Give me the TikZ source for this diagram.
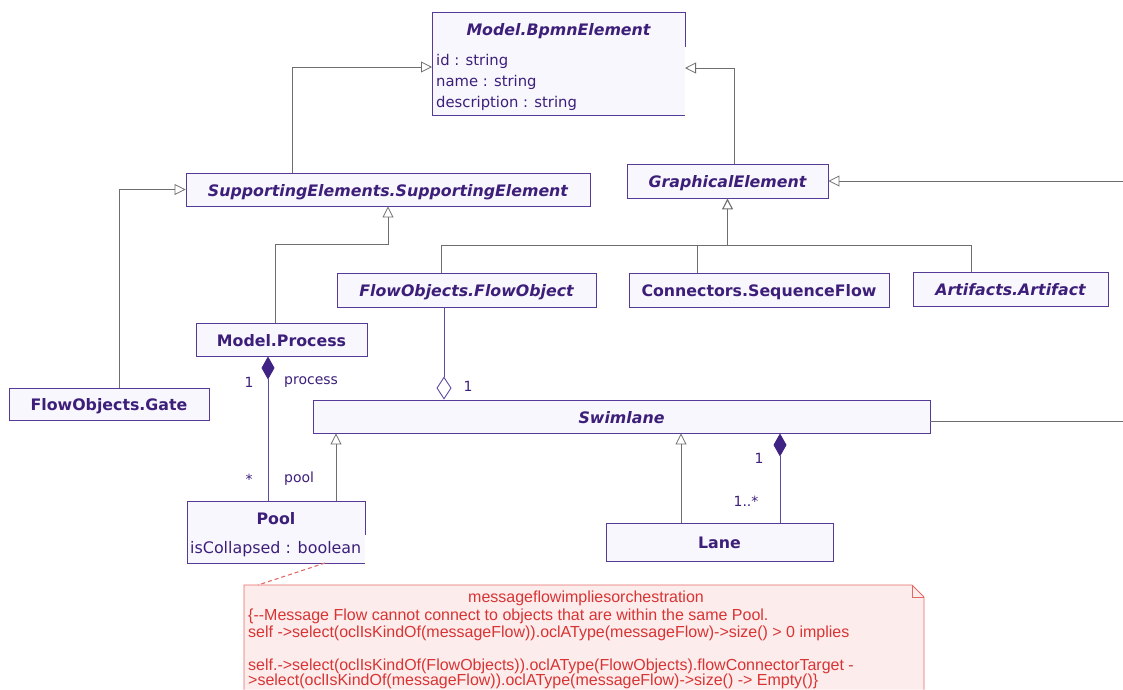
\documentclass[tikz,border=0pt]{standalone}
\usepackage{fontspec}
\setmainfont{DejaVu Sans}
\newfontfamily\notefont{Liberation Sans}
\usetikzlibrary{arrows.meta}

\definecolor{umlborder}{HTML}{553A98}
\definecolor{umlfill}{HTML}{F7F7FD}
\definecolor{umltext}{HTML}{3D1F7A}
\definecolor{genline}{HTML}{6E6E6E}
\definecolor{assocline}{HTML}{5E4AA0}
\definecolor{diamondfill}{HTML}{3F2283}
\definecolor{notefill}{HTML}{FDECEC}
\definecolor{noteline}{HTML}{E26A66}
\definecolor{notetext}{HTML}{D83434}

\tikzset{
  cls/.style={draw=umlborder, fill=umlfill, line width=0.9pt, inner sep=0pt,
    text=umltext, text height=13pt, text depth=0pt,
    font=\fontsize{15.8}{18}\selectfont\bfseries},
  abstractcls/.style={cls, font=\fontsize{15.8}{18}\selectfont\bfseries\itshape},
  attr/.style={inner sep=0pt, anchor=west, text=umltext,
    font=\fontsize{14.8}{17}\selectfont},
  gen/.style={draw=genline, line width=0.8pt,
    -{Triangle[open, length=11pt, width=11pt]}},
  gline/.style={draw=genline, line width=0.8pt},
  assoc/.style={draw=assocline, line width=0.9pt},
  comp/.style={assoc, {Diamond[length=23pt, width=13pt, color=diamondfill, fill=diamondfill]}-},
  aggr/.style={assoc, {Diamond[open, length=23pt, width=15pt]}-},
  mult/.style={text=umltext, inner sep=0pt, font=\fontsize{14}{16}\selectfont},
  notebody/.style={fill=notefill, draw=noteline, line width=0.8pt},
  notetxt/.style={text=notetext, inner sep=0pt, anchor=west,
    font=\notefont\fontsize{16}{17}\selectfont},
}

\begin{document}
\begin{tikzpicture}[x=1pt, y=-1pt]
\useasboundingbox (0,0) rectangle (1123,689);

% --- classes ---
\node[abstractcls, minimum width=253pt, minimum height=34pt] (bpmn) at (558.5,29) {Model.BpmnElement};
\path[fill=umlfill] (432,46) rectangle (685,115);
\draw[draw=umlborder, line width=0.9pt] (432,46) -- (432,115) -- (685,115);
\node[attr] (attrid) at (436,61) {id : string};
\node[attr] (attrname) at (436,82) {name : string};
\node[attr] (attrdesc) at (436,103) {description : string};

\node[abstractcls, minimum width=404pt, minimum height=33pt] (supp) at (388,189.5) {SupportingElements.SupportingElement};
\node[abstractcls, minimum width=201pt, minimum height=34pt] (graph) at (727.5,181) {GraphicalElement};
\node[cls, minimum width=200pt, minimum height=32pt] (gate) at (109,404) {FlowObjects.Gate};
\node[cls, minimum width=171pt, minimum height=33pt] (proc) at (281.5,339.5) {Model.Process};
\node[abstractcls, minimum width=259pt, minimum height=34pt] (flow) at (466.5,290) {FlowObjects.FlowObject};
\node[cls, minimum width=260pt, minimum height=34pt] (seq) at (759,290) {Connectors.SequenceFlow};
\node[abstractcls, minimum width=195pt, minimum height=34pt] (art) at (1010.5,289) {Artifacts.Artifact};
\node[abstractcls, minimum width=617pt, minimum height=33pt] (swim) at (621.5,416.5) {Swimlane};

\node[cls, minimum width=178pt, minimum height=33pt] (pool) at (276,517.5) {Pool};
\path[fill=umlfill] (187,534) rectangle (365,563);
\draw[draw=umlborder, line width=0.9pt] (187,534) -- (187,563) -- (365,563);
\node[attr, font=\fontsize{15.9}{18}\selectfont] (poolattr) at (190,549) {isCollapsed : boolean};

\node[cls, minimum width=227pt, minimum height=38pt] (lane) at (719.5,542) {Lane};

% --- generalizations ---
\coordinate (rgtA) at (1123,181);
\coordinate (rgtB) at (1123,421);
\coordinate (busL) at (441,245);
\coordinate (bus) at (727.5,245);
\coordinate (busR) at (971,245);

\draw[gen] ([xshift=-96pt]supp.north) |- (432,67);
\draw[gen] ([xshift=6.5pt]graph.north) |- (685,68);
\draw[gen] (rgtA) -- (graph.east);
\draw[gen] ([xshift=10pt]gate.north) |- (supp.west);
\draw[gen] ([xshift=-6.5pt]proc.north) |- ([yshift=-38pt]supp.south) -- (supp.south);

\draw[gline] ([xshift=-25.5pt]flow.north) -- (busL) -- (busR) -- ([xshift=-39.5pt]art.north);
\draw[gline] ([xshift=-62pt]seq.north) -- ([xshift=-62pt, yshift=28pt]seq.north);
\draw[gen, line width=1.1pt] (bus) -- (graph.south);

\draw[gline] ([yshift=-4.5pt]swim.east) -- (rgtB);
\draw[gen] ([xshift=60pt]pool.north) -- ([xshift=-285.5pt]swim.south);
\draw[gen] ([xshift=-38.5pt]lane.north) -- ([xshift=59.5pt]swim.south);

% --- associations ---
\draw[aggr] ([xshift=-177.5pt]swim.north) -- ([xshift=-22.5pt]flow.south);
\node[mult] (aggone) at (468,386) {1};

\draw[comp] ([xshift=-13.5pt]proc.south) -- ([xshift=-8pt]pool.north);
\node[mult] (pone) at (249,382) {1};
\node[mult, anchor=west] (prole) at (284,382) {process};
\node[mult] (pmany) at (249,479) {*};
\node[mult, anchor=west] (polrole) at (284,479) {pool};

\draw[comp] ([xshift=158.5pt]swim.south) -- ([xshift=60.5pt]lane.north);
\node[mult] (lone) at (759,458) {1};
\node[mult] (lmany) at (746,501) {1..*};

% --- constraint note ---
\path[notebody] (244,689.5) -- (244,585) -- (912,585) -- (924,597) -- (924,689.5);
\draw[draw=noteline, line width=0.8pt] (912,585) -- (912,597) -- (924,597);
\coordinate (notecorner) at (258,585);
\draw[draw=noteline, line width=1.1pt, dash pattern=on 4pt off 3pt] (325,563) -- (notecorner);

\node[notetxt, anchor=center] (notetitle) at (586,598) {messageflowimpliesorchestration};
\node[notetxt] (noteline1) at (248,616) {\{{-}{-}Message Flow cannot connect to objects that are within the same Pool.};
\node[notetxt] (noteline2) at (248,633) {self ->select(oclIsKindOf(messageFlow)).oclAType(messageFlow)->size() > 0 implies};
\node[notetxt] (noteline3) at (248,666) {self.->select(oclIsKindOf(FlowObjects)).oclAType(FlowObjects).flowConnectorTarget -};
\node[notetxt] (noteline4) at (248,681) {>select(oclIsKindOf(messageFlow)).oclAType(messageFlow)->size() -> Empty()\}};
\end{tikzpicture}
\end{document}
